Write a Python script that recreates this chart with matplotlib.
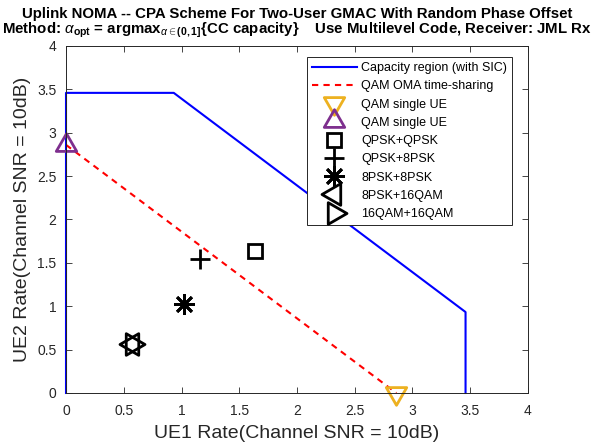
import matplotlib
matplotlib.use('Agg')
from matplotlib import pyplot as plt
from matplotlib.path import Path

plt.rcParams['font.family'] = ['Liberation Sans', 'DejaVu Sans']
plt.rcParams['mathtext.fontset'] = 'custom'
plt.rcParams['mathtext.rm'] = 'Liberation Sans'
plt.rcParams['mathtext.it'] = 'Liberation Sans:italic'
plt.rcParams['mathtext.bf'] = 'Liberation Sans:bold'

# capacity region with SIC at SNR = 10 dB (single-user and corner rates)
cap_x = [0, 0, 0.9329, 3.4594, 3.4594]
cap_y = [0, 3.4594, 3.4594, 0.9329, 0]

# OMA time-sharing between the two single-user QAM rates
oma_x = [0, 2.86]
oma_y = [2.86, 0]

single_x = [2.86, 0]
single_y = [0, 2.86]

# achieved rate pairs for each constellation combination
pair_names = ['QPSK+QPSK', 'QPSK+8PSK', '8PSK+8PSK', '8PSK+16QAM', '16QAM+16QAM']
pair_r1 = [1.64, 1.16, 1.02, 0.57, 0.57]
pair_r2 = [1.64, 1.55, 1.03, 0.57, 0.57]


# equilateral triangles anchored on their centroid
def tri(angle):
    base = {'up': [(0, 1), (-0.866, -0.5), (0.866, -0.5)],
            'down': [(0, -1), (-0.866, 0.5), (0.866, 0.5)],
            'left': [(-1, 0), (0.5, 0.866), (0.5, -0.866)],
            'right': [(1, 0), (-0.5, 0.866), (-0.5, -0.866)]}[angle]
    return Path(base + [base[0]], closed=True)


pair_markers = ['s', '+', (8, 2, 0), tri('left'), tri('right')]
pair_sizes = [10, 15, 15, 18, 18]

fig = plt.figure(figsize=(6.05, 4.48), dpi=100)
ax = fig.add_axes([0.1091, 0.1228, 0.7636, 0.7746])

ax.plot(cap_x, cap_y, color=(0, 0, 1), lw=1.5, clip_on=False,
        label='Capacity region (with SIC)')
ax.plot(oma_x, oma_y, color=(1, 0, 0), lw=1.5, ls=(0, (3, 2.5)),
        label='QAM OMA time-sharing')
ax.plot(single_x[0], single_y[0], ls='none', marker=tri('down'), ms=17,
        mfc='none', mec='#EDB120', mew=2, clip_on=False, label='QAM single UE')
ax.plot(single_x[1], single_y[1], ls='none', marker=tri('up'), ms=17,
        mfc='none', mec='#7E2F8E', mew=2, clip_on=False, label='QAM single UE')
for name, r1, r2, mk, sz in zip(pair_names, pair_r1, pair_r2, pair_markers, pair_sizes):
    ax.plot(r1, r2, ls='none', marker=mk, ms=sz, mfc='none', mec='k',
            mew=2, label=name)

ticks = [0, 0.5, 1, 1.5, 2, 2.5, 3, 3.5, 4]
tick_labels = ['0', '0.5', '1', '1.5', '2', '2.5', '3', '3.5', '4']
ax.set_xlim(0, 4)
ax.set_ylim(0, 4)
ax.set_xticks(ticks)
ax.set_yticks(ticks)
ax.set_xticklabels(tick_labels)
ax.set_yticklabels(tick_labels)
ax.tick_params(direction='in', length=4, width=0.6, colors='0.15',
               labelsize=10, top=True, right=True)
ax.tick_params(axis='x', pad=8)
ax.tick_params(axis='y', pad=7)
for sp in ax.spines.values():
    sp.set_color('0.15')
    sp.set_linewidth(0.7)

ax.set_xlabel('UE1 Rate(Channel SNR = 10dB)', fontsize=14, color='0.15', labelpad=5)
ax.set_ylabel('UE2 Rate(Channel SNR = 10dB)', fontsize=14, color='0.15', labelpad=4)

title = ('Uplink NOMA -- CPA Scheme For Two-User GMAC With Random Phase Offset\n'
         r'Method: $\alpha_{\mathbf{opt}}$ = $\mathbf{argmax}_{\alpha\in\mathbf{(0,1]}}$'
         '{CC capacity}    Use Multilevel Code, Receiver: JML Rx')
ax.set_title(title, fontsize=10.8, fontweight='bold', pad=9, linespacing=1.0)

leg = ax.legend(loc='upper right', bbox_to_anchor=(0.9654, 0.968),
                borderaxespad=0, fontsize=9, handlelength=3.6,
                handletextpad=0.35, labelspacing=0.5, fancybox=False,
                edgecolor='0.15', framealpha=1, borderpad=0.4)
leg.get_frame().set_linewidth(0.7)

fig.savefig('out.png', dpi=100)
